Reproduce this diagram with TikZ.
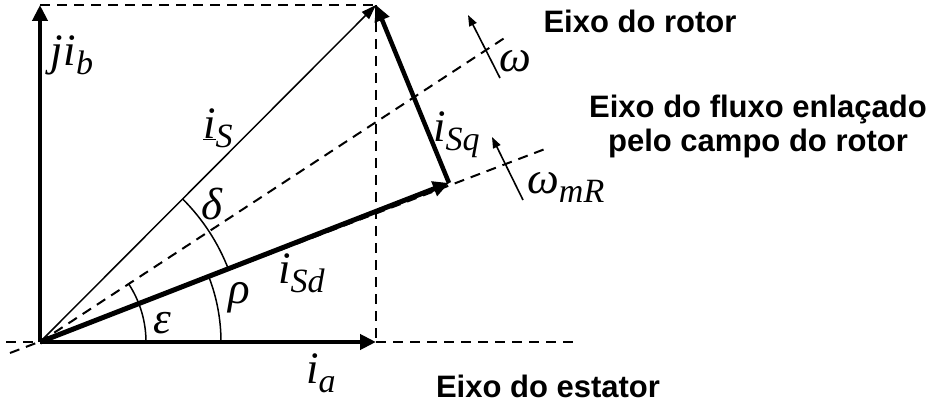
\documentclass[tikz,border=0pt]{standalone}
\usepackage{fontspec}
\setmainfont{Liberation Serif}
\newfontfamily\axfont{Liberation Sans}
\usetikzlibrary{arrows.meta}
\newcommand{\sbs}[1]{\raisebox{-9pt}{\fontsize{34}{34}\selectfont\itshape #1}}
\begin{document}
\begin{tikzpicture}[x=1pt,y=-1pt,
 vec/.style={line width=4.5pt,-{Triangle[length=16pt,width=15pt]}},
 thinvec/.style={line width=1.5pt,-{Triangle[length=15pt,width=10pt]}},
 rotarrow/.style={line width=1.6pt,-{Triangle[length=11pt,width=8pt]}},
 axisline/.style={line width=2pt,dash pattern=on 10pt off 7pt},
 anglearc/.style={line width=1.5pt},
 lbl/.style={inner sep=0pt,font=\fontsize{45}{45}\selectfont\itshape},
 axlbl/.style={inner sep=0pt,font=\axfont\bfseries\fontsize{31}{34}\selectfont,align=center}]
\path[use as bounding box] (0,0) rectangle (937,406);

% points
\coordinate (O) at (40,342);
\coordinate (A) at (376,342);
\coordinate (B) at (40,5);
\coordinate (S) at (376,5);
\coordinate (P) at (449,183);
\coordinate (R) at (506,37);
\coordinate (F) at (545,149);
\coordinate (Fb) at (10,353);
\coordinate (Ae) at (580,342);
\coordinate (Ab) at (6,342);
\coordinate (W1) at (500,78);
\coordinate (W2) at (468,15);
\coordinate (M1) at (523,200);
\coordinate (M2) at (492,137);

% dashed axes and projections
\draw[axisline] (Ab) -- (O);
\draw[axisline] (A) -- (Ae);
\draw[axisline] (Fb) -- (F);
\draw[axisline] (O) -- (R);
\draw[axisline] (B) -- (S);
\draw[axisline] (S) -- (A);

% angle arcs
\draw[anglearc] (O) ++(0:106) arc[start angle=0,end angle=-33,radius=106];
\draw[anglearc] (O) ++(0:181) arc[start angle=0,end angle=-21,radius=181];
\draw[anglearc] (O) ++(-21:202) arc[start angle=-21,end angle=-45,radius=202];

% vectors
\draw[thinvec] (O) -- (S);
\draw[vec] (O) -- (A);
\draw[vec] (O) -- (B);
\draw[vec,line width=5pt] (O) -- (P);
\draw[vec] (P) -- (S);

% rotation arrows
\draw[rotarrow] (W1) -- (W2);
\draw[rotarrow] (M1) -- (M2);

% labels
\node[lbl,anchor=west] (jib) at (50,55) {j\kern1pt i\sbs{b}};
\node[lbl,anchor=west] (iS) at (203,128) {\underline{i}\sbs{S}};
\node[lbl,anchor=west] (ia) at (306,373) {i\sbs{a}};
\node[lbl,anchor=west] (iSd) at (278,273) {i\sbs{Sd}};
\node[lbl,anchor=west] (iSq) at (433,135) {i\sbs{Sq}};
\node[lbl] (del) at (212,204) {δ};
\node[lbl] (rho) at (239,298) {ρ};
\node[lbl] (eps) at (162,323) {ε};
\node[lbl,anchor=west] (om) at (499,61) {ω};
\node[lbl,anchor=west] (omR) at (527,187) {ω\sbs{mR}};

\node[axlbl] (rot) at (640,21) {Eixo do rotor};
\node[axlbl] (flx) at (758,126) {Eixo do fluxo enlaçado\\pelo campo do rotor};
\node[axlbl] (est) at (548,386) {Eixo do estator};
\end{tikzpicture}
\end{document}
